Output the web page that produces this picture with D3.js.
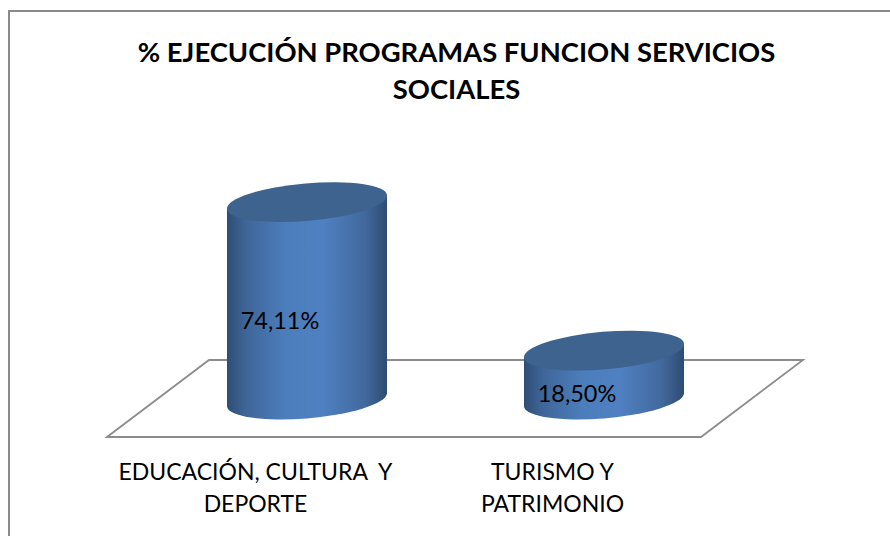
<!DOCTYPE html>
<html><head><meta charset="utf-8">
<script src="https://cdn.jsdelivr.net/npm/d3@7"></script>
<style>html,body{margin:0;background:#fff}svg{display:block}text{font-family:Lato,"Open Sans",sans-serif;fill:#000}</style>
</head><body><svg id="c" width="890" height="536"></svg>
<script>
const categories = [["EDUCACIÓN, CULTURA  Y","DEPORTE"],["TURISMO Y","PATRIMONIO"]];
const values = [74.11, 18.50];
const valueLabels = ["74,11%","18,50%"];
const titleLines = ["% EJECUCIÓN PROGRAMAS FUNCION SERVICIOS","SOCIALES"];

const svg = d3.select("#c");
const x = d3.scaleBand().domain(d3.range(values.length)).range([107,701]);
const baseY = 400;
const y = d3.scaleLinear().domain([0,100]).range([baseY, baseY-267]);
const depth = 51;
const rx = 80.3, ry = 18.8, rot = -4.9;
const halfW = 80, tilt = 6.5;

const defs = svg.append("defs");
const g = defs.append("linearGradient").attr("id","body");
[[0,"#2f4d75"],[0.12,"#3f6699"],[0.36,"#4c7dbb"],[0.6,"#4f80c1"],[0.86,"#42699d"],[1,"#2e4c73"]]
 .forEach(s=>g.append("stop").attr("offset",s[0]).attr("stop-color",s[1]));

svg.append("path").attr("fill","none").attr("stroke","#8a8a8a").attr("stroke-width",2)
 .attr("d","M9,536V11H890");

const fx0=x.range()[0], fx1=x.range()[1];
svg.append("path").attr("fill","#fff").attr("stroke","#8c8c8c").attr("stroke-width",1.8)
 .attr("d",`M${fx0},437L${fx0+102},360H${fx1+102}L${fx1},437Z`);

const cyl = svg.selectAll("g.cyl").data(values).join("g").attr("class","cyl");
cyl.each(function(v,i){
  const cx = x(i)+x.bandwidth()/2+depth+0.5;
  const tc = y(v);
  const el = d3.select(this);
  el.append("path").attr("fill","url(#body)")
    .attr("d",`M${cx-halfW},${tc+tilt}V${baseY+tilt}A${rx},${ry} ${rot} 0 0 ${cx+halfW},${baseY-tilt}V${tc-tilt}Z`);
  el.append("ellipse").attr("rx",rx).attr("ry",ry)
    .attr("transform",`translate(${cx},${tc}) rotate(${rot})`).attr("fill","#3e638f");
});

svg.selectAll("text.val").data(valueLabels).join("text").attr("class","val")
  .attr("x",(d,i)=>[280,577][i]).attr("y",(d,i)=>[329,402][i])
  .attr("text-anchor","middle").attr("font-size",23.5).text(d=>d);

svg.selectAll("g.cat").data(categories).join("g").attr("class","cat").each(function(lines,i){
  d3.select(this).selectAll("text").data(lines).join("text")
   .attr("x",x(i)+x.bandwidth()/2).attr("y",(d,j)=>480+j*32)
   .attr("text-anchor","middle").attr("font-size",23).style("white-space","pre").text(d=>d);
});

svg.selectAll("text.title").data(titleLines).join("text").attr("class","title")
  .attr("x",456.5).attr("y",(d,i)=>62+i*37)
  .attr("text-anchor","middle").attr("font-size",27.4).attr("font-weight",700).text(d=>d);
</script></body></html>
